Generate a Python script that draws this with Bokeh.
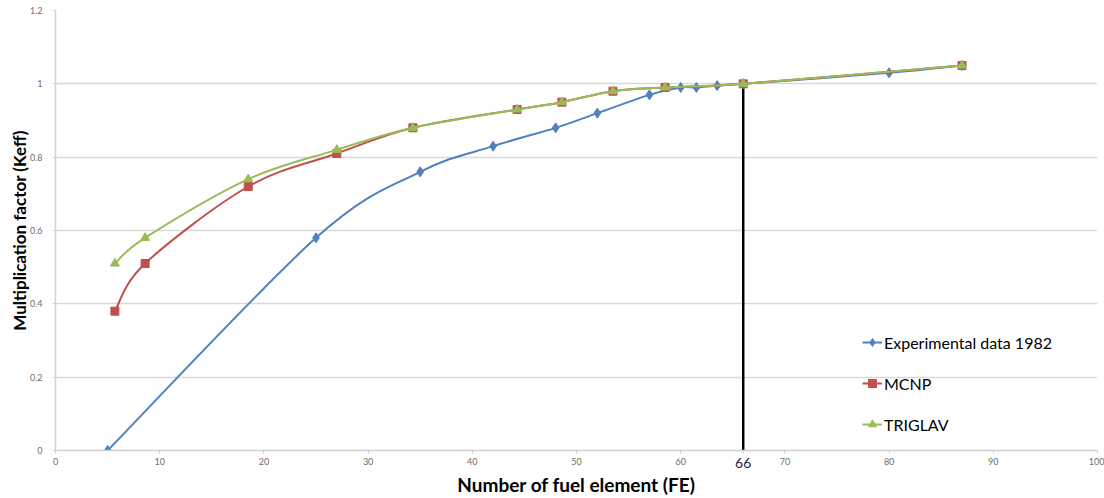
from bokeh.plotting import figure
from bokeh.models import Legend, LegendItem, FixedTicker, LinearAxis
from bokeh.embed import file_html
from bokeh.resources import INLINE

# ---- data ----
exp_x = [5, 25, 35, 42, 48, 52, 57, 60, 61.5, 63.5, 66, 80, 87]
exp_y = [0.0, 0.58, 0.76, 0.83, 0.88, 0.92, 0.97, 0.99, 0.99, 0.995, 1.0, 1.03, 1.05]
mcnp_x = [5.7, 8.6, 18.5, 27, 34.3, 44.3, 48.6, 53.5, 58.5, 66, 87]
mcnp_y = [0.38, 0.51, 0.72, 0.81, 0.88, 0.93, 0.95, 0.98, 0.99, 1.0, 1.05]
trig_x = [5.7, 8.6, 18.5, 27, 34.3, 44.3, 48.6, 53.5, 58.5, 66, 87]
trig_y = [0.51, 0.58, 0.74, 0.82, 0.88, 0.93, 0.95, 0.98, 0.99, 1.0, 1.05]
x_ticks = [0, 10, 20, 30, 40, 50, 60, 70, 80, 90, 100]
y_ticks = [0, 0.2, 0.4, 0.6, 0.8, 1.0, 1.2]
y_tick_labels = ["0", "0.2", "0.4", "0.6", "0.8", "1", "1.2"]
critical_fe = 66
critical_k = 1.0

BLUE = "#4F81BD"
RED = "#C0504D"
GREEN = "#9BBB59"
FONT = "Lato"

p = figure(width=1104, height=498, x_range=(0, 100), y_range=(0, 1.2),
           output_backend="svg", toolbar_location=None,
           min_border_left=55, min_border_right=7, min_border_top=10, min_border_bottom=2)
p.outline_line_color = None
p.background_fill_color = "white"
p.border_fill_color = "white"

p.xgrid.grid_line_color = None
p.ygrid.grid_line_color = "#D9D9D9"
p.ygrid.grid_line_width = 1.5
p.ygrid.ticker = FixedTicker(ticks=y_ticks)

# primary x axis: axis line, ticks, and the highlighted critical-core label
xa = p.xaxis[0]
xa.ticker = FixedTicker(ticks=x_ticks + [critical_fe])
overrides = {t: "" for t in x_ticks}
overrides[critical_fe] = str(critical_fe)
xa.major_label_overrides = overrides
xa.major_label_text_font_size = "14px"
xa.major_label_text_color = "#1F1F3F"
xa.major_label_standoff = 4

# second x axis: the regular tick labels and the axis title
xb = LinearAxis(ticker=FixedTicker(ticks=x_ticks))
xb.axis_line_color = None
xb.major_tick_line_color = None
xb.major_tick_out = 0
xb.major_tick_in = 0
xb.major_label_standoff = -13
xb.major_label_text_font_size = "9px"
xb.major_label_text_color = "#6E6E6E"
p.add_layout(xb, "below")

p.yaxis.ticker = FixedTicker(ticks=y_ticks)
p.yaxis.major_label_overrides = {t: l for t, l in zip(y_ticks, y_tick_labels)}
p.yaxis.major_label_text_font_size = "9px"
p.yaxis.major_label_text_color = "#6E6E6E"

for ax in (xa, xb, p.yaxis[0]):
    ax.minor_tick_line_color = None
    ax.major_label_text_font = FONT
    ax.axis_label_text_font = FONT
    ax.axis_label_text_font_style = "bold"
    ax.axis_label_text_color = "black"
for ax in (xa, p.yaxis[0]):
    ax.axis_line_color = "#D0D0D0"
    ax.axis_line_width = 1.5
    ax.major_tick_line_color = "#D0D0D0"
    ax.major_tick_out = 3
    ax.major_tick_in = 0

xb.axis_label = "Number of fuel element (FE)"
xb.axis_label_text_font_size = "19px"
xb.axis_label_standoff = 5
p.yaxis.axis_label = "Multiplication factor (Keff)"
p.yaxis.axis_label_text_font_size = "17px"
p.yaxis.major_label_standoff = 10
p.yaxis.axis_label_standoff = -3


def smooth(xs, ys):
    """Bezier control points (Catmull-Rom style) for a smoothed line through the data."""
    n = len(xs)
    segs = dict(x0=[], y0=[], x1=[], y1=[], cx0=[], cy0=[], cx1=[], cy1=[])
    t = 1.0 / 6.0
    for i in range(n - 1):
        p0 = (xs[max(i - 1, 0)], ys[max(i - 1, 0)])
        p1 = (xs[i], ys[i])
        p2 = (xs[i + 1], ys[i + 1])
        p3 = (xs[min(i + 2, n - 1)], ys[min(i + 2, n - 1)])
        segs["x0"].append(p1[0]); segs["y0"].append(p1[1])
        segs["x1"].append(p2[0]); segs["y1"].append(p2[1])
        segs["cx0"].append(p1[0] + (p2[0] - p0[0]) * t)
        segs["cy0"].append(p1[1] + (p2[1] - p0[1]) * t)
        segs["cx1"].append(p2[0] - (p3[0] - p1[0]) * t)
        segs["cy1"].append(p2[1] - (p3[1] - p1[1]) * t)
    return segs


# vertical line at critical point
p.segment(x0=[critical_fe], y0=[0], x1=[critical_fe], y1=[critical_k],
          line_color="black", line_width=2.5)

items = []
for xs, ys, color, marker, size, name in [
    (exp_x, exp_y, BLUE, "diamond", 10, "Experimental data 1982"),
    (mcnp_x, mcnp_y, RED, "square", 8, "MCNP"),
    (trig_x, trig_y, GREEN, "triangle", 9, "TRIGLAV"),
]:
    s = smooth(xs, ys)
    br = p.bezier(x0=s["x0"], y0=s["y0"], x1=s["x1"], y1=s["y1"],
                  cx0=s["cx0"], cy0=s["cy0"], cx1=s["cx1"], cy1=s["cy1"],
                  line_color=color, line_width=2)
    sr = p.scatter(xs, ys, marker=marker, size=size, fill_color=color, line_color=color)
    items.append(LegendItem(label=name, renderers=[br, sr]))

legend = Legend(items=items, location=(807, 16), orientation="vertical",
                label_text_font=FONT, label_text_font_size="16px", label_text_color="black",
                glyph_width=20, glyph_height=20, label_height=20, label_standoff=2,
                spacing=21, padding=0, margin=0,
                background_fill_alpha=0, border_line_alpha=0)
p.add_layout(legend, "center")

open("out.html", "w").write(file_html(p, INLINE))
